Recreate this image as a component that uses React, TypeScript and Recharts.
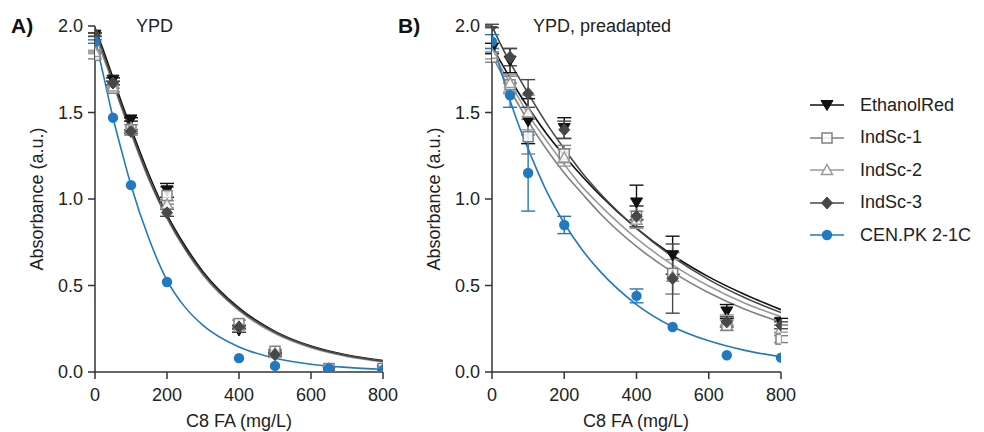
import React from 'react';
import { ComposedChart, Line, Scatter, XAxis, YAxis, ErrorBar } from 'recharts';

const FONT = "'Liberation Sans', Arial, Helvetica, sans-serif";

const STRAINS = ['EthanolRed', 'IndSc-1', 'IndSc-2', 'IndSc-3', 'CEN.PK 2-1C'];
const COLORS = ['#111111', '#808080', '#9a9a9a', '#484848', '#2179c2'];
const SHAPES = ['triangleDown', 'squareOpen', 'triangleOpen', 'diamond', 'circle'];

const DOSES = [0, 50, 100, 200, 400, 500, 650, 800];
const FIT_X = [0, 25, 50, 75, 100, 150, 200, 250, 300, 400, 500, 600, 700, 800];
const X_TICKS = [0, 200, 400, 600, 800];
const Y_TICKS = [0, 0.5, 1, 1.5, 2];

// Panel A – YPD
const A_ETHANOLRED = [1.95, 1.69, 1.46, 1.05, 0.24, 0.1, 0.0, 0.01];
const A_ETHANOLRED_SD = [0.01, 0.01, 0.01, 0.04, 0.01, 0.01, 0.0, 0.0];
const A_INDSC1 = [1.83, 1.64, 1.4, 1.02, 0.28, 0.12, 0.02, 0.02];
const A_INDSC1_SD = [0.02, 0.02, 0.03, 0.05, 0.02, 0.01, 0.0, 0.0];
const A_INDSC2 = [1.85, 1.65, 1.41, 0.97, 0.26, 0.11, 0.02, 0.01];
const A_INDSC2_SD = [0.01, 0.01, 0.02, 0.02, 0.01, 0.01, 0.0, 0.0];
const A_INDSC3 = [1.95, 1.67, 1.39, 0.92, 0.26, 0.1, 0.01, 0.01];
const A_INDSC3_SD = [0.01, 0.01, 0.01, 0.02, 0.01, 0.01, 0.0, 0.0];
const A_CENPK = [1.91, 1.47, 1.08, 0.52, 0.08, 0.035, 0.02, 0.01];
const A_CENPK_SD = [0.01, 0.0, 0.0, 0.0, 0.0, 0.0, 0.0, 0.0];

const A_FIT_ETHANOLRED = [1.99, 1.85, 1.7, 1.55, 1.41, 1.14, 0.91, 0.73, 0.58, 0.37, 0.235, 0.15, 0.098, 0.066];
const A_FIT_INDSC1 = [1.95, 1.81, 1.67, 1.52, 1.38, 1.11, 0.89, 0.71, 0.565, 0.36, 0.228, 0.145, 0.094, 0.062];
const A_FIT_INDSC2 = [1.96, 1.82, 1.67, 1.52, 1.38, 1.12, 0.89, 0.71, 0.56, 0.355, 0.222, 0.14, 0.09, 0.058];
const A_FIT_INDSC3 = [1.98, 1.83, 1.68, 1.53, 1.39, 1.12, 0.895, 0.715, 0.57, 0.362, 0.23, 0.146, 0.094, 0.062];
const A_FIT_CENPK = [1.93, 1.7, 1.47, 1.27, 1.08, 0.77, 0.53, 0.375, 0.27, 0.145, 0.08, 0.045, 0.027, 0.016];

// Panel B – YPD, preadapted
const B_ETHANOLRED = [1.87, 1.8, 1.45, 1.41, 0.98, 0.675, 0.35, 0.29];
const B_ETHANOLRED_SD = [0.03, 0.07, 0.13, 0.06, 0.1, 0.11, 0.04, 0.02];
const B_INDSC1 = [1.82, 1.66, 1.36, 1.26, 0.9, 0.57, 0.27, 0.19];
const B_INDSC1_SD = [0.03, 0.05, 0.1, 0.05, 0.06, 0.12, 0.03, 0.02];
const B_INDSC2 = [1.84, 1.67, 1.5, 1.24, 0.88, 0.55, 0.3, 0.25];
const B_INDSC2_SD = [0.03, 0.05, 0.1, 0.05, 0.05, 0.1, 0.03, 0.02];
const B_INDSC3 = [2.0, 1.82, 1.61, 1.4, 0.9, 0.54, 0.29, 0.27];
const B_INDSC3_SD = [0.01, 0.05, 0.08, 0.05, 0.06, 0.2, 0.03, 0.02];
const B_CENPK = [1.91, 1.6, 1.15, 0.85, 0.44, 0.26, 0.097, 0.083];
const B_CENPK_SD = [0.04, 0.07, 0.22, 0.05, 0.04, 0.0, 0.0, 0.0];

const B_FIT_ETHANOLRED = [1.88, 1.79, 1.7, 1.61, 1.53, 1.38, 1.25, 1.13, 1.02, 0.83, 0.675, 0.55, 0.448, 0.36];
const B_FIT_INDSC1 = [1.83, 1.73, 1.63, 1.54, 1.45, 1.29, 1.15, 1.03, 0.915, 0.726, 0.577, 0.458, 0.363, 0.288];
const B_FIT_INDSC2 = [1.86, 1.76, 1.67, 1.58, 1.49, 1.34, 1.2, 1.07, 0.962, 0.772, 0.619, 0.497, 0.398, 0.32];
const B_FIT_INDSC3 = [2.0, 1.89, 1.79, 1.7, 1.61, 1.44, 1.29, 1.15, 1.03, 0.83, 0.666, 0.534, 0.429, 0.344];
const B_FIT_CENPK = [1.92, 1.74, 1.57, 1.42, 1.29, 1.05, 0.86, 0.705, 0.58, 0.39, 0.262, 0.18, 0.125, 0.088];

const toPoints = (vals: number[], sd: number[]) => DOSES.map((x, i) => ({ x, y: vals[i], e: sd[i] }));
const toFit = (vals: number[]) => FIT_X.map((x, i) => ({ x, y: vals[i] }));

const PANEL_A = {
  points: [
    toPoints(A_ETHANOLRED, A_ETHANOLRED_SD),
    toPoints(A_INDSC1, A_INDSC1_SD),
    toPoints(A_INDSC2, A_INDSC2_SD),
    toPoints(A_INDSC3, A_INDSC3_SD),
    toPoints(A_CENPK, A_CENPK_SD),
  ],
  fits: [
    toFit(A_FIT_ETHANOLRED),
    toFit(A_FIT_INDSC1),
    toFit(A_FIT_INDSC2),
    toFit(A_FIT_INDSC3),
    toFit(A_FIT_CENPK),
  ],
};

const PANEL_B = {
  points: [
    toPoints(B_ETHANOLRED, B_ETHANOLRED_SD),
    toPoints(B_INDSC1, B_INDSC1_SD),
    toPoints(B_INDSC2, B_INDSC2_SD),
    toPoints(B_INDSC3, B_INDSC3_SD),
    toPoints(B_CENPK, B_CENPK_SD),
  ],
  fits: [
    toFit(B_FIT_ETHANOLRED),
    toFit(B_FIT_INDSC1),
    toFit(B_FIT_INDSC2),
    toFit(B_FIT_INDSC3),
    toFit(B_FIT_CENPK),
  ],
};

const Marker = ({ kind, color, cx, cy }: { kind: string; color: string; cx: number; cy: number }) => {
  switch (kind) {
    case 'triangleDown':
      return <polygon points={`${cx - 6},${cy - 4.5} ${cx + 6},${cy - 4.5} ${cx},${cy + 5.5}`} fill={color} stroke={color} strokeWidth={1} />;
    case 'squareOpen':
      return <rect x={cx - 5} y={cy - 5} width={10} height={10} fill="#ffffff" fillOpacity={0.85} stroke={color} strokeWidth={1.5} />;
    case 'triangleOpen':
      return <polygon points={`${cx - 5.5},${cy + 4.5} ${cx + 5.5},${cy + 4.5} ${cx},${cy - 5.5}`} fill="#ffffff" fillOpacity={0.85} stroke={color} strokeWidth={1.5} />;
    case 'diamond':
      return <polygon points={`${cx},${cy - 6} ${cx + 5.5},${cy} ${cx},${cy + 6} ${cx - 5.5},${cy}`} fill={color} stroke={color} strokeWidth={1} />;
    default:
      return <circle cx={cx} cy={cy} r={5.2} fill={color} />;
  }
};

const makeShape = (kind: string, color: string) => (props: any) => {
  const { cx, cy } = props;
  if (cx == null || cy == null || isNaN(cx) || isNaN(cy)) return <g />;
  return <Marker kind={kind} color={color} cx={cx} cy={cy} />;
};

const axisStroke = '#333333';
const tickStyle = { fontSize: 18, fontFamily: FONT, fill: '#222222' };

const Panel = ({ data, width, rightMargin }: { data: typeof PANEL_A; width: number; rightMargin: number }) => (
  <ComposedChart width={width} height={432} margin={{ top: 26, right: rightMargin, bottom: 10, left: 0 }}>
    <XAxis
      dataKey="x"
      type="number"
      domain={[0, 800]}
      ticks={X_TICKS}
      height={50}
      tickSize={7}
      tickMargin={9}
      stroke={axisStroke}
      strokeWidth={1.5}
      tick={tickStyle}
      allowDataOverflow
    />
    <YAxis
      dataKey="y"
      type="number"
      domain={[0, 2]}
      ticks={Y_TICKS}
      width={95}
      tickSize={7}
      tickMargin={5}
      stroke={axisStroke}
      strokeWidth={1.5}
      tick={tickStyle}
      tickFormatter={(v: number) => v.toFixed(1)}
      allowDataOverflow
    />
    {data.fits.map((fit, i) => (
      <Line
        key={`fit-${i}`}
        name={STRAINS[i]}
        data={fit}
        dataKey="y"
        type="monotone"
        dot={false}
        activeDot={false}
        stroke={COLORS[i]}
        strokeWidth={1.6}
        isAnimationActive={false}
        legendType="none"
      />
    ))}
    {data.points.map((pts, i) => (
      <Scatter
        key={`pts-${i}`}
        name={STRAINS[i]}
        data={pts}
        fill={COLORS[i]}
        shape={makeShape(SHAPES[i], COLORS[i])}
        isAnimationActive={false}
      >
        <ErrorBar dataKey="e" direction="y" width={7} stroke={COLORS[i]} strokeWidth={1.4} />
      </Scatter>
    ))}
  </ComposedChart>
);

const text = (extra: React.CSSProperties): React.CSSProperties => ({
  position: 'absolute',
  fontFamily: FONT,
  fontSize: 18,
  color: '#222222',
  whiteSpace: 'nowrap',
  lineHeight: 1,
  ...extra,
});

const LegendBox = () => (
  <div style={{ position: 'absolute', left: 810, top: 89, fontFamily: FONT, fontSize: 18, color: '#222222' }}>
    {STRAINS.map((s, i) => (
      <div key={s} style={{ display: 'flex', alignItems: 'center', height: 32.5 }}>
        <svg width={34} height={14} style={{ display: 'block' }}>
          <line x1={0} y1={7} x2={34} y2={7} stroke={COLORS[i]} strokeWidth={1.6} />
          <Marker kind={SHAPES[i]} color={COLORS[i]} cx={17} cy={7} />
        </svg>
        <span style={{ marginLeft: 16 }}>{s}</span>
      </div>
    ))}
  </div>
);

export default function App() {
  return (
    <div style={{ position: 'absolute', left: 0, top: 0, width: 984, height: 432, background: '#ffffff', overflow: 'hidden' }}>
      <div style={{ position: 'absolute', left: 0, top: 0 }}>
        <Panel data={PANEL_A} width={400} rightMargin={17} />
      </div>
      <div style={{ position: 'absolute', left: 397, top: 0 }}>
        <Panel data={PANEL_B} width={400} rightMargin={16} />
      </div>

      <div style={text({ left: 11, top: 15, fontSize: 21, fontWeight: 'bold', color: '#111' })}>A)</div>
      <div style={text({ left: 136, top: 17 })}>YPD</div>
      <div style={text({ left: 398, top: 15, fontSize: 21, fontWeight: 'bold', color: '#111' })}>B)</div>
      <div style={text({ left: 533, top: 17 })}>YPD, preadapted</div>

      <div style={text({ left: 37, top: 199, transform: 'translate(-50%, -50%) rotate(-90deg)' })}>Absorbance (a.u.)</div>
      <div style={text({ left: 434, top: 199, transform: 'translate(-50%, -50%) rotate(-90deg)' })}>Absorbance (a.u.)</div>
      <div style={text({ left: 239, top: 421, transform: 'translate(-50%, -50%)' })}>C8 FA (mg/L)</div>
      <div style={text({ left: 636, top: 421, transform: 'translate(-50%, -50%)' })}>C8 FA (mg/L)</div>

      <LegendBox />
    </div>
  );
}
